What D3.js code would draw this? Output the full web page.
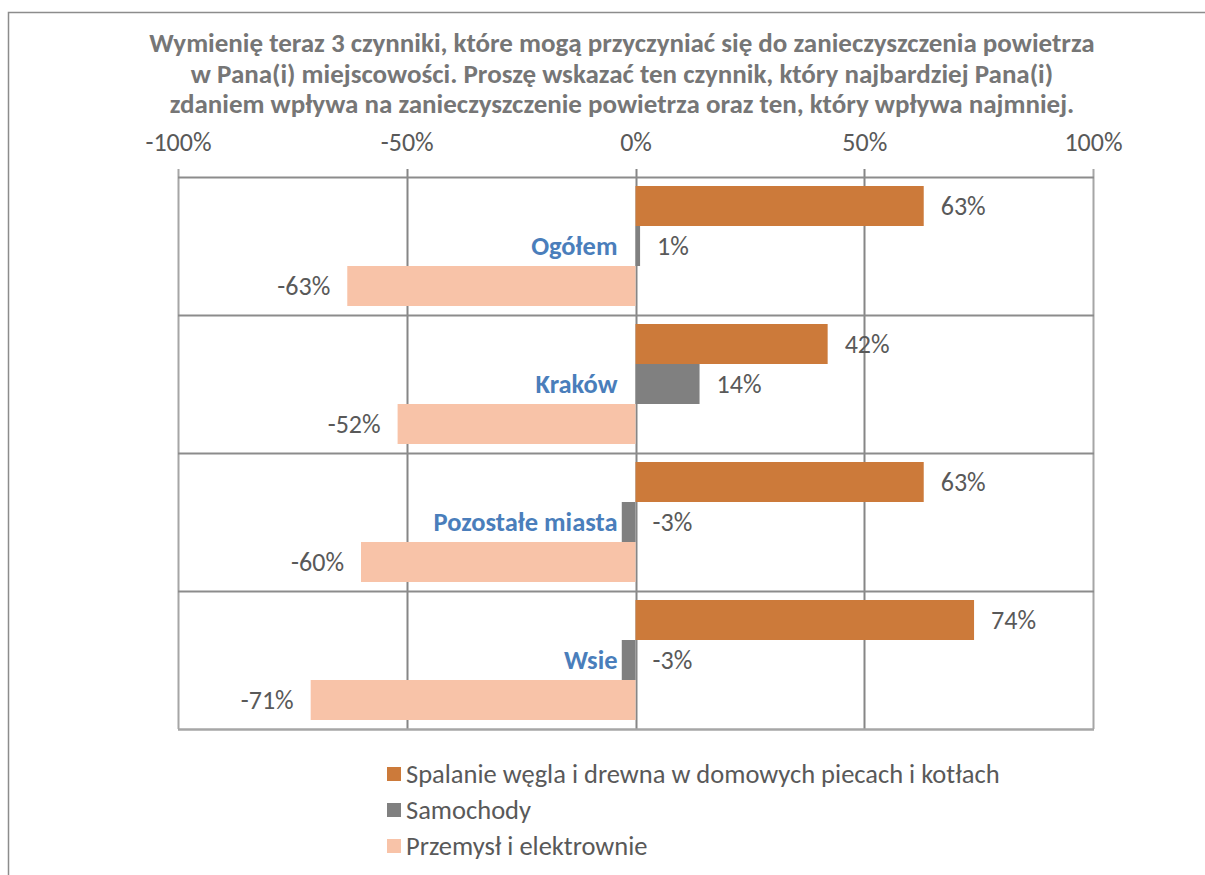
<!DOCTYPE html>
<html>
<head>
<meta charset="utf-8">
<script src="https://cdn.jsdelivr.net/npm/d3@7"></script>
<style>
  body { margin: 0; background: #fff; }
  svg text { font-family: Carlito, Lato, "Open Sans", sans-serif; }
  .title { font-weight: bold; fill: #767676; font-size: 27px; }
  .tick-label { fill: #595959; font-size: 26px; }
  .cat-label { fill: #4a7ebb; font-weight: bold; font-size: 26.5px; }
  .val-label { fill: #595959; font-size: 26px; }
  .leg-label { fill: #595959; font-size: 26.5px; }
</style>
</head>
<body>
<div id="chart"></div>
<script>
// Data
const categories = ["Ogółem", "Kraków", "Pozostałe miasta", "Wsie"];
const seriesNames = [
	"Spalanie węgla i drewna w domowych piecach i kotłach",
	"Samochody",
	"Przemysł i elektrownie"
];
const spalanie = [63, 42, 63, 74];
const samochody = [1, 14, -3, -3];
const przemysl = [-63, -52, -60, -71];
const tickValues = [-100, -50, 0, 50, 100];
const colors = ["#cc7a3a", "#808080", "#f8c3a8"];

const titleLines = [
	"Wymienię teraz 3 czynniki, które mogą przyczyniać się do zanieczyszczenia powietrza",
	"w Pana(i) miejscowości. Proszę wskazać ten czynnik, który najbardziej Pana(i)",
	"zdaniem wpływa na zanieczyszczenie powietrza oraz ten, który wpływa najmniej."
];

const W = 1205, H = 875;
const plot = { left: 178, right: 1093, top: 177, bottom: 729 };

let svg = d3.select("#chart").append("svg")
	.attr("width", W)
	.attr("height", H);

// outer chart frame (runs off the picture on right and bottom)
svg.append("rect")
	.attr("x", 8.5).attr("y", 12.5)
	.attr("width", 1400).attr("height", 1000)
	.attr("fill", "none")
	.attr("stroke", "#8c8c8c")
	.attr("stroke-width", 1.5);

// Title
svg.append("g").selectAll("text")
	.data(titleLines)
	.join("text")
	.attr("class", "title")
	.attr("x", 622)
	.attr("y", (d, i) => 52 + i * 30.5)
	.attr("text-anchor", "middle")
	.text(d => d);

// Scales
let x = d3.scaleLinear()
	.domain([-100, 100])
	.range([plot.left, plot.right]);

let y = d3.scaleBand()
	.domain(categories)
	.range([plot.top, plot.bottom])
	.paddingInner(0);

let ySub = d3.scaleBand()
	.domain(seriesNames)
	.range([9, y.bandwidth() - 9]);

// Vertical gridlines incl. little ticks above the plot
svg.append("g").selectAll("line")
	.data(tickValues)
	.join("line")
	.attr("x1", d => Math.round(x(d)) + 0.5)
	.attr("x2", d => Math.round(x(d)) + 0.5)
	.attr("y1", plot.top - 8)
	.attr("y2", plot.bottom)
	.attr("stroke", d => (d === -100 || d === 100) ? "#a6a6a6" : "#868686")
	.attr("stroke-width", 2);

// Horizontal category gridlines
const hLines = categories.map(c => y(c)).concat([plot.bottom]);
svg.append("g").selectAll("line")
	.data(hLines)
	.join("line")
	.attr("x1", plot.left)
	.attr("x2", plot.right + 1)
	.attr("y1", d => Math.round(d) + 0.5)
	.attr("y2", d => Math.round(d) + 0.5)
	.attr("stroke", (d, i) => i === hLines.length - 1 ? "#a6a6a6" : "#8c8c8c")
	.attr("stroke-width", (d, i) => i === hLines.length - 1 ? 2.5 : 2);

// Top axis labels
let xAxis = d3.axisTop(x)
	.tickValues(tickValues)
	.tickFormat(d => d + "%")
	.tickSize(0)
	.tickPadding(0);
let xAxisEl = svg.append("g")
	.attr("transform", "translate(0,151)")
	.call(xAxis);
xAxisEl.select(".domain").remove();
xAxisEl.selectAll("text")
	.attr("class", "tick-label")
	.attr("dy", 0)
	.attr("font-size", null)
	.attr("font-family", null);

// Bars
const seriesData = [spalanie, samochody, przemysl];
const barData = [];
categories.forEach((c, ci) => {
	seriesNames.forEach((s, si) => {
		barData.push({ cat: c, series: s, idx: si, value: seriesData[si][ci] });
	});
});

svg.append("g").selectAll("rect")
	.data(barData)
	.join("rect")
	.attr("x", d => x(Math.min(0, d.value)))
	.attr("y", d => y(d.cat) + ySub(d.series))
	.attr("width", d => Math.abs(x(d.value) - x(0)))
	.attr("height", ySub.bandwidth())
	.attr("fill", d => colors[d.idx]);

// Value labels; the car series always sits right of the axis (category label is on the left)
const labelRight = d => d.value >= 0 || d.idx === 1;
svg.append("g").selectAll("text")
	.data(barData)
	.join("text")
	.attr("class", "val-label")
	.attr("x", d => labelRight(d) ? x(Math.max(0, d.value)) + 17 : x(d.value) - 17)
	.attr("y", d => y(d.cat) + ySub(d.series) + ySub.bandwidth() / 2)
	.attr("dy", "0.35em")
	.attr("text-anchor", d => labelRight(d) ? "start" : "end")
	.text(d => d.value + "%");

// Category labels next to zero axis
svg.append("g").selectAll("text")
	.data(categories)
	.join("text")
	.attr("class", "cat-label")
	.attr("x", x(0) - 18)
	.attr("y", d => y(d) + y.bandwidth() / 2)
	.attr("dy", "0.35em")
	.attr("text-anchor", "end")
	.text(d => d);

// Legend
let legend = svg.append("g")
	.attr("transform", "translate(387,774)");
legend.selectAll("rect")
	.data(seriesNames)
	.join("rect")
	.attr("x", 0)
	.attr("y", (d, i) => i * 36 - 7)
	.attr("width", 14)
	.attr("height", 14)
	.attr("fill", (d, i) => colors[i]);
legend.selectAll("text")
	.data(seriesNames)
	.join("text")
	.attr("class", "leg-label")
	.attr("x", 19)
	.attr("y", (d, i) => i * 36)
	.attr("dy", "0.35em")
	.text(d => d);
</script>
</body>
</html>
